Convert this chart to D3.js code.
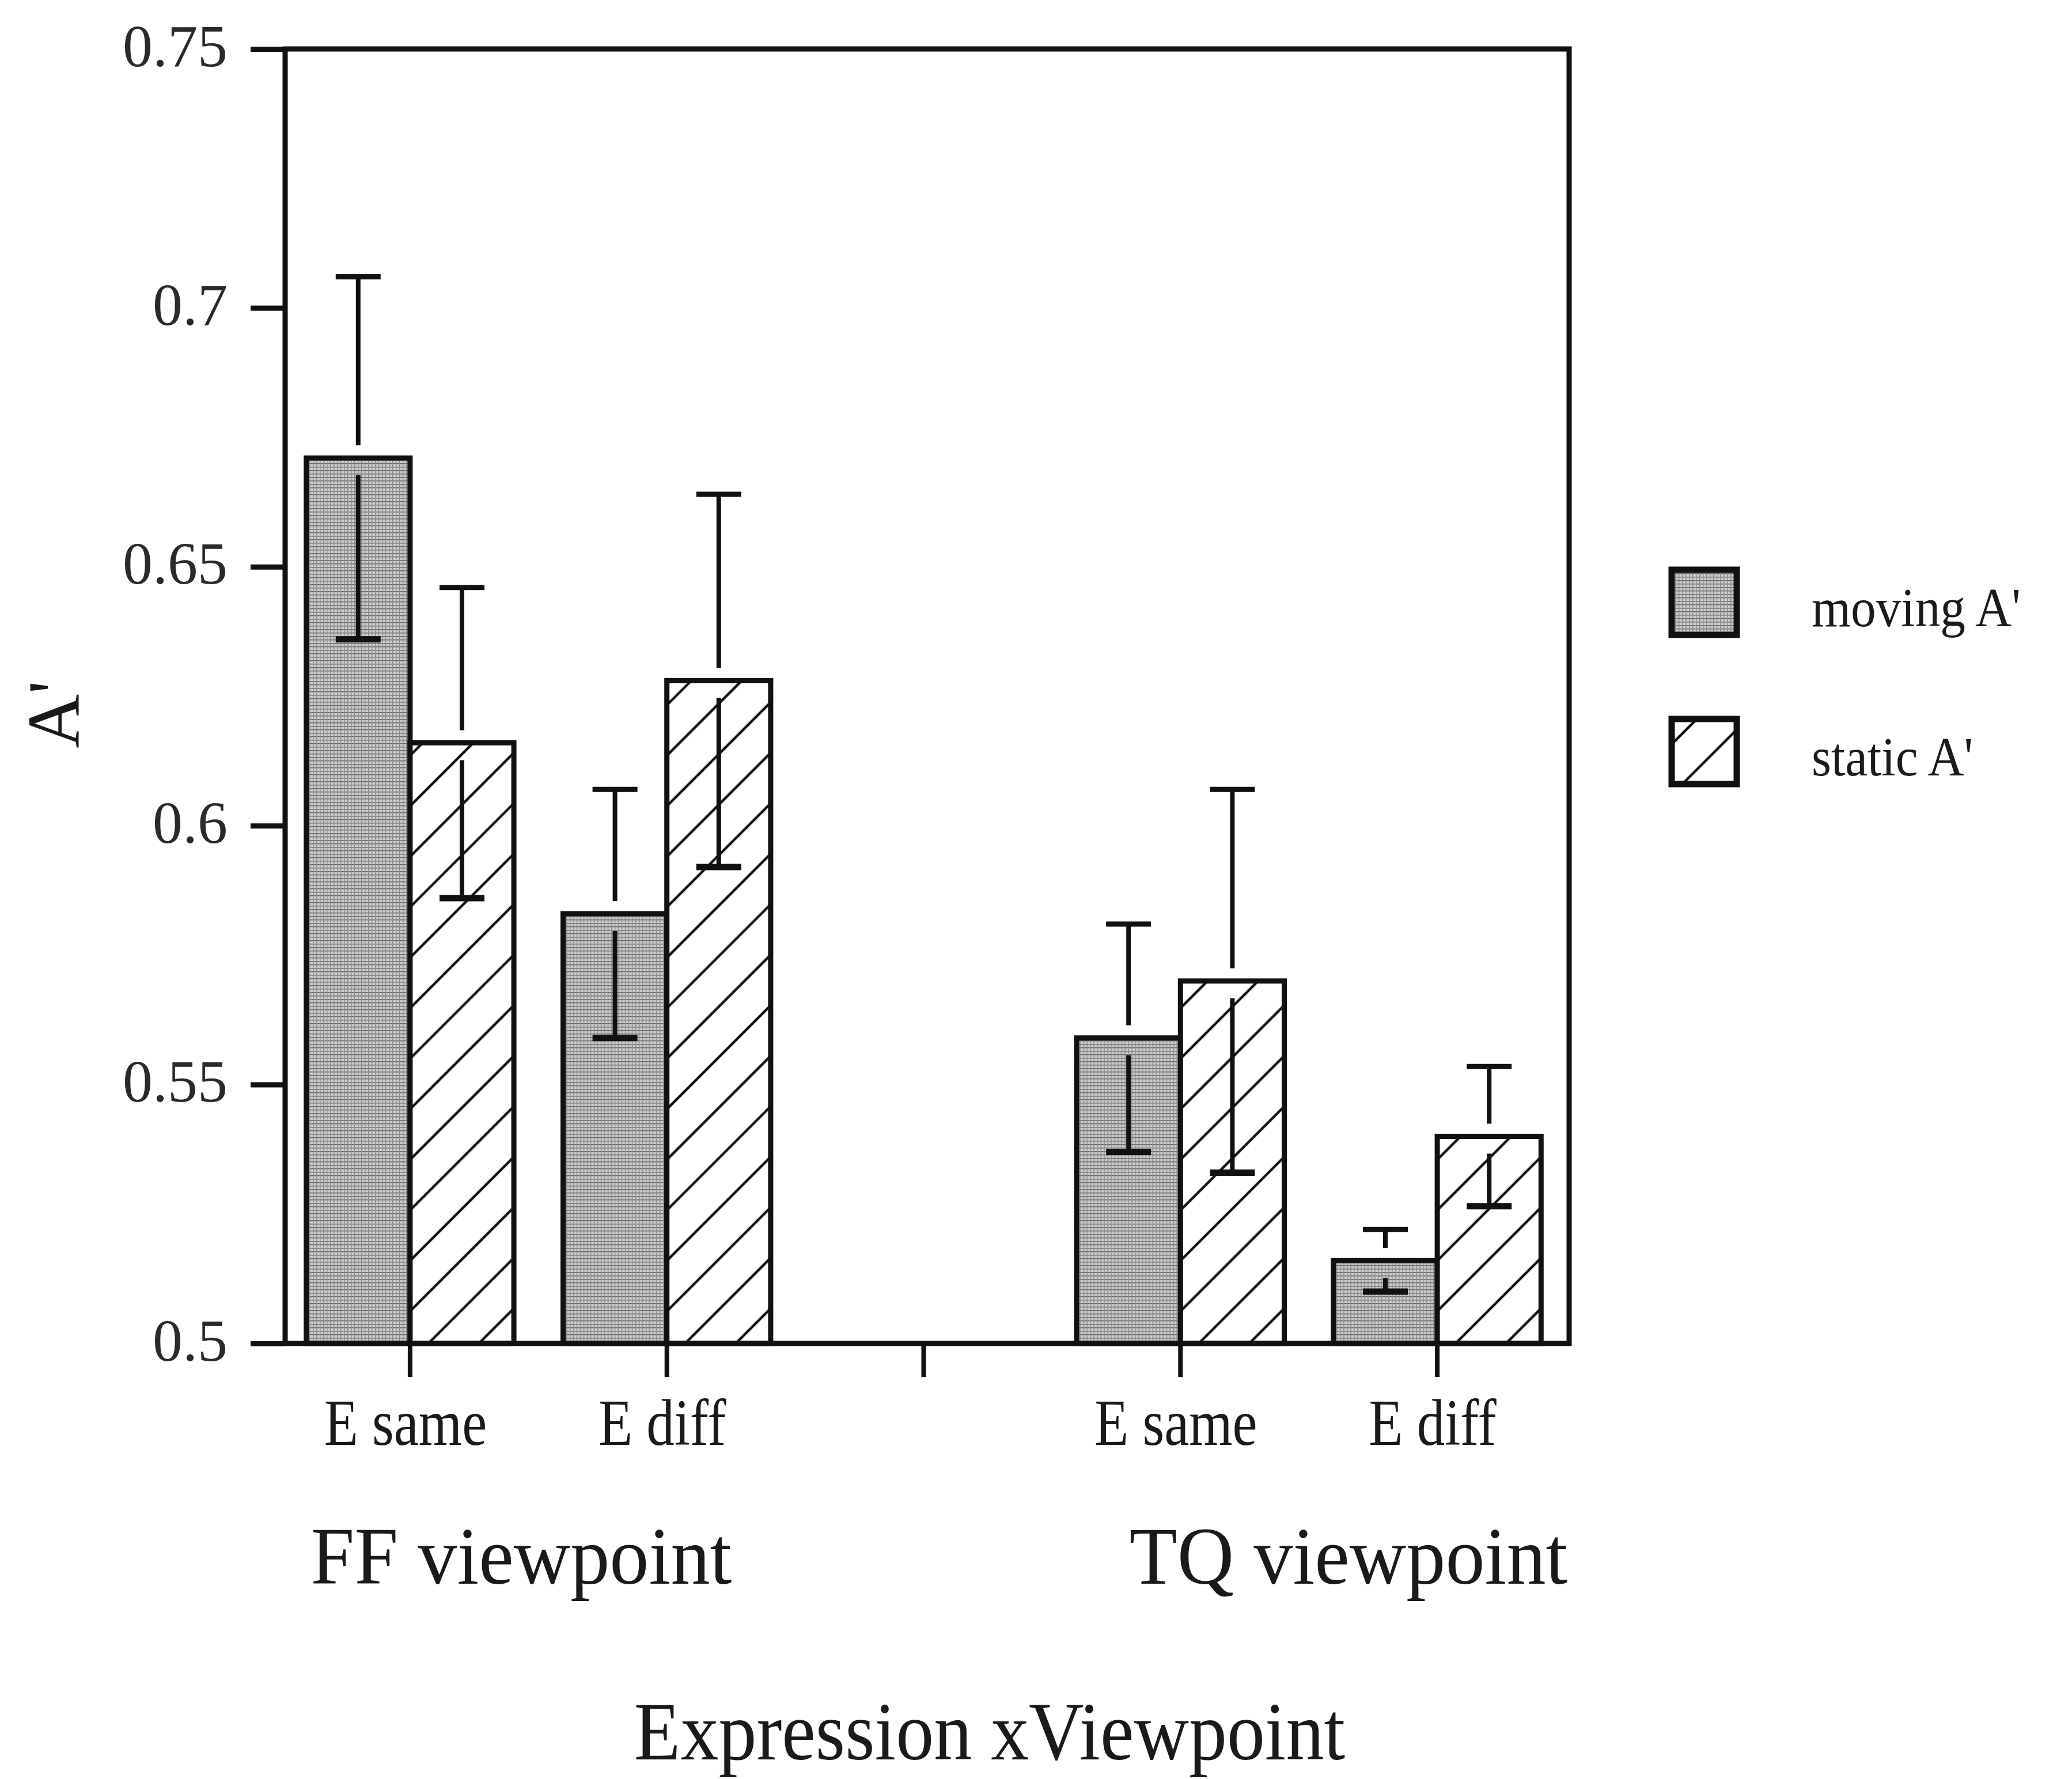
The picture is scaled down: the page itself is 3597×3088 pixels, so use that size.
<!DOCTYPE html>
<html>
<head>
<meta charset="utf-8">
<script src="https://cdn.jsdelivr.net/npm/d3@7"></script>
<style>
  html, body { margin: 0; padding: 0; background: #fff; }
  svg { display: block; font-family: "Liberation Serif", "Times New Roman", serif; }
</style>
</head>
<body>
<div class="chart"></div>
<script>
// values
const slots = ['FF|E same', 'FF|E diff', 'gap', 'TQ|E same', 'TQ|E diff'];
const barSlots = ['FF|E same', 'FF|E diff', 'TQ|E same', 'TQ|E diff'];
const conditionLabels = ['E same', 'E diff', 'E same', 'E diff'];
const groupLabels = ['FF viewpoint', 'TQ viewpoint'];
const series = ['moving', 'static'];
const seriesLabels = ["moving A'", "static A'"];
const movingMean = [0.671, 0.583, 0.559, 0.516];
const movingErr = [0.035, 0.024, 0.022, 0.006];
const staticMean = [0.616, 0.628, 0.570, 0.540];
const staticErr = [0.030, 0.036, 0.037, 0.0135];
const yTicks = [0.5, 0.55, 0.6, 0.65, 0.7, 0.75];
const yTickLabels = ['0.5', '0.55', '0.6', '0.65', '0.7', '0.75'];
const xTitle = 'Expression xViewpoint';
const yTitle = "A'";

const width = 3597;
const height = 3088;
const frame = { left: 495, right: 2724, top: 85, bottom: 2332 };

const rows = barSlots.map((slot, i) => ({
  slot,
  label: conditionLabels[i],
  values: [
    { key: 'moving', value: movingMean[i], err: movingErr[i] },
    { key: 'static', value: staticMean[i], err: staticErr[i] }
  ]
}));

const svg = d3.select('.chart')
  .append('svg')
  .attr('width', width)
  .attr('height', height);

svg.append('rect').attr('width', width).attr('height', height).attr('fill', '#fff');

// fill patterns
const defs = svg.append('defs');
const grid = defs.append('pattern')
  .attr('id', 'grid')
  .attr('patternUnits', 'userSpaceOnUse')
  .attr('width', 6)
  .attr('height', 6);
grid.append('rect').attr('width', 6).attr('height', 6).attr('fill', '#cdcdcd');
grid.append('line').attr('x1', 0).attr('x2', 6).attr('y1', 0.75).attr('y2', 0.75)
  .attr('stroke', '#666').attr('stroke-width', 1.5);
grid.append('line').attr('x1', 0.75).attr('x2', 0.75).attr('y1', 0).attr('y2', 6)
  .attr('stroke', '#8a8a8a').attr('stroke-width', 1.5);

const hatch = defs.append('pattern')
  .attr('id', 'hatch')
  .attr('patternUnits', 'userSpaceOnUse')
  .attr('width', 62)
  .attr('height', 20)
  .attr('patternTransform', 'rotate(45)');
hatch.append('rect').attr('width', 62).attr('height', 20).attr('fill', '#fff');
hatch.append('line').attr('x1', 31).attr('x2', 31).attr('y1', 0).attr('y2', 20)
  .attr('stroke', '#111').attr('stroke-width', 4.5);

const fill = d3.scaleOrdinal().domain(series).range(['url(#grid)', 'url(#hatch)']);

// scales
const x = d3.scaleBand()
  .domain(slots)
  .range([frame.left - 6, frame.right - 6]);

const xg = d3.scaleBand()
  .domain(series)
  .range([0, x.bandwidth()])
  .paddingInner(0)
  .paddingOuter(0.237);

const y = d3.scaleLinear()
  .domain([0.5, 0.75])
  .range([frame.bottom, frame.top]);

function addText(sel, str, tx, ty, size, sx, anchor) {
  return sel.append('text')
    .attr('transform', `translate(${tx},${ty}) scale(${sx},1)`)
    .attr('font-size', size)
    .attr('text-anchor', anchor)
    .attr('fill', '#1a1a1a')
    .text(str);
}

// bars
const barGroups = svg.append('g')
  .selectAll('g')
  .data(rows)
  .join('g')
  .attr('transform', d => `translate(${x(d.slot)},0)`);

barGroups.selectAll('rect')
  .data(d => d.values)
  .join('rect')
  .attr('x', d => xg(d.key))
  .attr('y', d => y(d.value))
  .attr('width', xg.bandwidth())
  .attr('height', d => y(0.5) - y(d.value))
  .attr('fill', d => fill(d.key))
  .attr('stroke', '#111')
  .attr('stroke-width', 9);

// error bars, with a small break where they cross the bar top
const gapAbove = 22;
const gapBelow = 30;
const capHalf = 39;
const errs = barGroups.selectAll('g.err')
  .data(d => d.values)
  .join('g')
  .attr('class', 'err')
  .attr('transform', d => `translate(${xg(d.key) + xg.bandwidth() / 2},0)`)
  .attr('stroke', '#111')
  .attr('stroke-width', 8);

errs.filter(d => y(d.value + d.err) < y(d.value) - gapAbove)
  .append('line')
  .attr('y1', d => y(d.value + d.err))
  .attr('y2', d => y(d.value) - gapAbove);
errs.filter(d => y(d.value - d.err) > y(d.value) + gapBelow)
  .append('line')
  .attr('y1', d => y(d.value) + gapBelow)
  .attr('y2', d => y(d.value - d.err));
errs.append('line')
  .attr('x1', -capHalf).attr('x2', capHalf)
  .attr('y1', d => y(d.value + d.err)).attr('y2', d => y(d.value + d.err))
  .attr('stroke-width', 9);
errs.append('line')
  .attr('x1', -capHalf).attr('x2', capHalf)
  .attr('y1', d => y(d.value - d.err)).attr('y2', d => y(d.value - d.err))
  .attr('stroke-width', 11);

// frame
svg.append('rect')
  .attr('x', frame.left)
  .attr('y', frame.top)
  .attr('width', frame.right - frame.left)
  .attr('height', frame.bottom - frame.top)
  .attr('fill', 'none')
  .attr('stroke', '#111')
  .attr('stroke-width', 9);

// axes
const yAxis = d3.axisLeft(y)
  .tickValues(yTicks)
  .tickFormat((d, i) => yTickLabels[i])
  .tickSize(60)
  .tickPadding(40);

const yAxisGroup = svg.append('g')
  .attr('transform', `translate(${frame.left},0)`)
  .call(yAxis)
  .call(g => g.select('.domain').remove());
yAxisGroup.attr('font-family', null).attr('font-size', 104);
yAxisGroup.selectAll('line').attr('stroke', '#111').attr('stroke-width', 9);
yAxisGroup.selectAll('text').attr('fill', '#2a2a2a').attr('dy', '0.28em');

const xAxis = d3.axisBottom(x).tickSize(58).tickFormat('');
const xAxisGroup = svg.append('g')
  .call(xAxis.offset(0))
  .call(g => g.select('.domain').remove());
xAxisGroup.attr('transform', `translate(0,${frame.bottom})`);
xAxisGroup.selectAll('line').attr('stroke', '#111').attr('stroke-width', 8);

// condition labels
const labels = svg.append('g');
rows.forEach(r => {
  addText(labels, r.label, x(r.slot) + x.bandwidth() / 2 - 8, 2508, 114, 0.85, 'middle');
});

// group labels
const groupX = [905, 2341];
groupLabels.forEach((g, i) => addText(labels, g, groupX[i], 2749, 142, 0.96, 'middle'));

// axis titles
addText(labels, xTitle, 1718, 3054, 145, 0.91, 'middle');
svg.append('text')
  .attr('transform', 'translate(137,1240) rotate(-90)')
  .attr('font-size', 130)
  .attr('text-anchor', 'middle')
  .attr('fill', '#1a1a1a')
  .text(yTitle);

// legend
const legend = svg.append('g')
  .selectAll('g')
  .data(series)
  .join('g')
  .attr('transform', (d, i) => `translate(2902,${989 + i * 259})`);

legend.append('rect')
  .attr('width', 113)
  .attr('height', 113)
  .attr('fill', d => fill(d))
  .attr('stroke', '#111')
  .attr('stroke-width', 11);

legend.each(function(d, i) {
  addText(d3.select(this), seriesLabels[i], 243, 98, 95, 0.92, 'start');
});
</script>
</body>
</html>
